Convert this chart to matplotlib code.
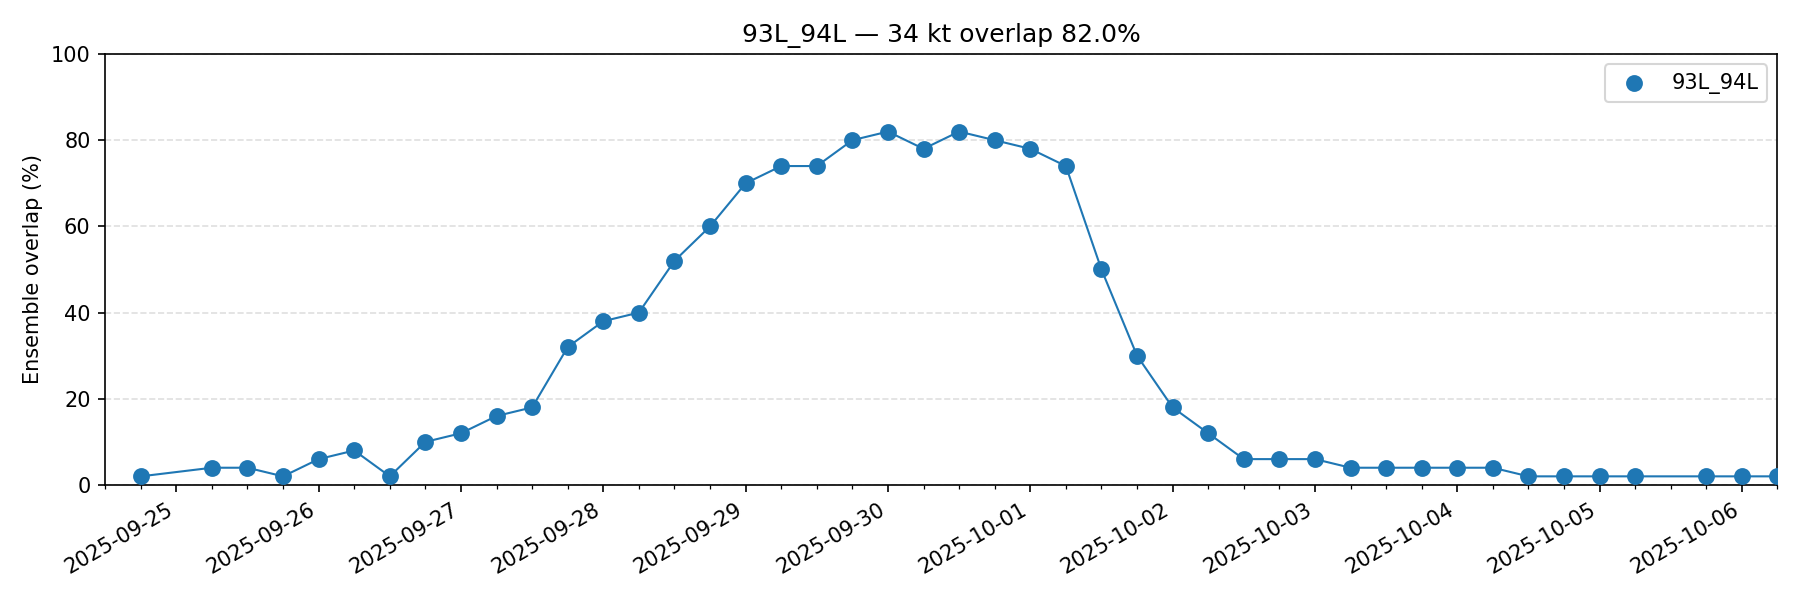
import matplotlib
matplotlib.use("Agg")
import matplotlib.pyplot as plt
import matplotlib.dates as mdates
import pandas as pd

# 6-hourly valid times (two gaps: 09-25 00Z and 10-05 12Z)
times = pd.to_datetime([
    "2025-09-24 18:00",
    "2025-09-25 06:00", "2025-09-25 12:00", "2025-09-25 18:00",
    "2025-09-26 00:00", "2025-09-26 06:00", "2025-09-26 12:00", "2025-09-26 18:00",
    "2025-09-27 00:00", "2025-09-27 06:00", "2025-09-27 12:00", "2025-09-27 18:00",
    "2025-09-28 00:00", "2025-09-28 06:00", "2025-09-28 12:00", "2025-09-28 18:00",
    "2025-09-29 00:00", "2025-09-29 06:00", "2025-09-29 12:00", "2025-09-29 18:00",
    "2025-09-30 00:00", "2025-09-30 06:00", "2025-09-30 12:00", "2025-09-30 18:00",
    "2025-10-01 00:00", "2025-10-01 06:00", "2025-10-01 12:00", "2025-10-01 18:00",
    "2025-10-02 00:00", "2025-10-02 06:00", "2025-10-02 12:00", "2025-10-02 18:00",
    "2025-10-03 00:00", "2025-10-03 06:00", "2025-10-03 12:00", "2025-10-03 18:00",
    "2025-10-04 00:00", "2025-10-04 06:00", "2025-10-04 12:00", "2025-10-04 18:00",
    "2025-10-05 00:00", "2025-10-05 06:00", "2025-10-05 18:00",
    "2025-10-06 00:00", "2025-10-06 06:00",
])
overlap = [
    2,
    4, 4, 2,
    6, 8, 2, 10,
    12, 16, 18, 32,
    38, 40, 52, 60,
    70, 74, 74, 80,
    82, 78, 82, 80,
    78, 74, 50, 30,
    18, 12, 6, 6,
    6, 4, 4, 4,
    4, 4, 2, 2,
    2, 2, 2,
    2, 2,
]
pair = "93L_94L"
threshold = "34 kt"
peak = max(overlap)

fig, ax = plt.subplots(figsize=(12, 4), dpi=150)
ax.plot(times, overlap, color="#1f77b4", linewidth=1)
ax.scatter(times, overlap, s=50, color="#1f77b4", label=pair, zorder=3)

ax.set_ylim(0, 100)
ax.set_xlim(pd.Timestamp("2025-09-24 12:00"), times[-1])
ax.set_ylabel("Ensemble overlap (%)")
ax.set_title(f"{pair} \u2014 {threshold} overlap {peak:.1f}%")
ax.grid(axis="y", linestyle="--", alpha=0.4)

ax.xaxis.set_major_locator(mdates.DayLocator())
ax.xaxis.set_major_formatter(mdates.DateFormatter("%Y-%m-%d"))
ax.xaxis.set_minor_locator(mdates.HourLocator(byhour=[0, 6, 12, 18]))
fig.autofmt_xdate()

ax.legend(loc="upper right")
fig.tight_layout()
fig.savefig("out.png")
